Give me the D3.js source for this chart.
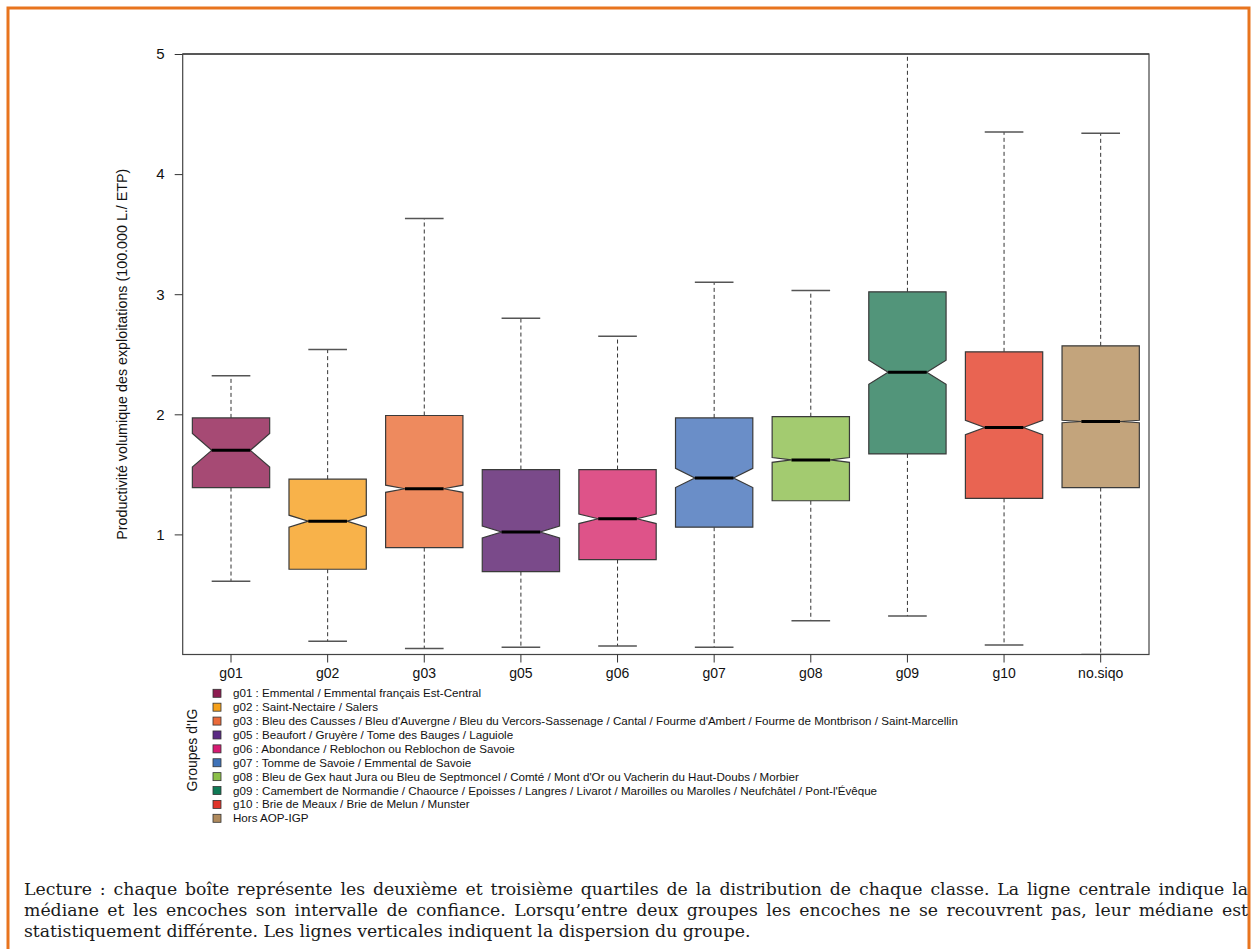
<!DOCTYPE html>
<html>
<head>
<meta charset="utf-8">
<script src="https://cdn.jsdelivr.net/npm/d3@7"></script>
<style>
  html, body { margin: 0; padding: 0; background: #fff; }
  #wrap { position: relative; width: 1252px; height: 949px; overflow: hidden; }
  svg { position: absolute; left: 0; top: 0; }
  #note { position: absolute; left: 24px; top: 879px; width: 1224px;
          font-family: "DejaVu Serif", serif; font-size: 17.3px; line-height: 21px; color: #1a1a1a; }
  #note .j { display: block; text-align: justify; text-align-last: justify; white-space: nowrap; }
  #note .l { display: block; text-align: left; white-space: nowrap; }
</style>
</head>
<body>
<div id="wrap"></div>
<script>
// ---- data ----
const categories   = ["g01","g02","g03","g05","g06","g07","g08","g09","g10","no.siqo"];
const whiskerLow   = [0.61, 0.11, 0.05, 0.06, 0.07, 0.06, 0.28, 0.32, 0.08, 0.00];
const q1           = [1.39, 0.71, 0.89, 0.69, 0.79, 1.06, 1.28, 1.67, 1.30, 1.39];
const medians      = [1.70, 1.11, 1.38, 1.02, 1.13, 1.47, 1.62, 2.35, 1.89, 1.94];
const q3           = [1.97, 1.46, 1.99, 1.54, 1.54, 1.97, 1.98, 3.02, 2.52, 2.57];
const whiskerHigh  = [2.32, 2.54, 3.63, 2.80, 2.65, 3.10, 3.03, 5.30, 4.35, 4.34];
const notchHalf    = [0.14, 0.05, 0.03, 0.05, 0.04, 0.08, 0.02, 0.10, 0.06, 0.01];
const boxColors    = ["#A64A74","#F8B24A","#EE8A5E","#7A4A8A","#DE5389","#6A8EC8","#A3CB70","#52957A","#E96452","#C3A47C"];
const legendColors = ["#8E1D52","#F5A01A","#EA6A3A","#5B2A84","#D61A72","#3F73B9","#8CC04A","#0F7A55","#E0352B","#B08A5C"];
const legendLabels = [
  "g01 : Emmental / Emmental français Est-Central",
  "g02 : Saint-Nectaire / Salers",
  "g03 : Bleu des Causses / Bleu d'Auvergne / Bleu du Vercors-Sassenage / Cantal / Fourme d'Ambert / Fourme de Montbrison / Saint-Marcellin",
  "g05 : Beaufort / Gruyère / Tome des Bauges / Laguiole",
  "g06 : Abondance / Reblochon ou Reblochon de Savoie",
  "g07 : Tomme de Savoie / Emmental de Savoie",
  "g08 : Bleu de Gex haut Jura ou Bleu de Septmoncel / Comté / Mont d'Or ou Vacherin du Haut-Doubs / Morbier",
  "g09 : Camembert de Normandie / Chaource / Epoisses / Langres / Livarot / Maroilles ou Marolles / Neufchâtel / Pont-l'Évêque",
  "g10 : Brie de Meaux / Brie de Melun / Munster",
  "Hors AOP-IGP"
];
const yTicks = [1, 2, 3, 4, 5];
const yTitle = "Productivité volumique des exploitations (100.000 L./ ETP)";
const legendTitle = "Groupes d'IG";
const noteLines = [
  "Lecture : chaque boîte représente les deuxième et troisième quartiles de la distribution de chaque classe. La ligne centrale indique la",
  "médiane et les encoches son intervalle de confiance. Lorsqu’entre deux groupes les encoches ne se recouvrent pas, leur médiane est",
  "statistiquement différente. Les lignes verticales indiquent la dispersion du groupe."
];

// ---- layout ----
const W = 1252, H = 949;
const plot = { left: 182.7, right: 1149, top: 54, bottom: 654.5 };
const font = "'Liberation Sans', Arial, Helvetica, sans-serif";

const wrap = d3.select("#wrap");
const svg = wrap.append("svg").attr("width", W).attr("height", H);

// orange frame
const frame = svg.append("g").attr("stroke", "#E8741E").attr("stroke-width", 3).attr("fill", "none");
frame.append("path").attr("d", `M8,${H} L8,8 L1249,8 L1249,${H}`);

const x = d3.scaleBand().domain(categories).range([plot.left, plot.right]).padding(0);
const y = d3.scaleLinear().domain([0, 5]).range([plot.bottom, plot.top]);

const data = categories.map((c, i) => ({
  c, lo: whiskerLow[i], q1: q1[i], med: medians[i], q3: q3[i], hi: whiskerHigh[i],
  nh: notchHalf[i], fill: boxColors[i]
}));

svg.append("clipPath").attr("id", "clip").append("rect")
  .attr("x", plot.left).attr("y", plot.top)
  .attr("width", plot.right - plot.left).attr("height", plot.bottom - plot.top);

const g = svg.append("g").attr("clip-path", "url(#clip)");
const bw = x.bandwidth() * 0.8;

data.forEach(d => {
  const cx = x(d.c) + x.bandwidth() / 2;
  const half = bw / 2, nhw = bw / 4;
  g.append("line").attr("x1", cx).attr("x2", cx).attr("y1", y(d.q3)).attr("y2", y(d.hi))
    .attr("stroke", "#333").attr("stroke-width", 1).attr("stroke-dasharray", "4,3");
  g.append("line").attr("x1", cx).attr("x2", cx).attr("y1", y(d.q1)).attr("y2", y(d.lo))
    .attr("stroke", "#333").attr("stroke-width", 1).attr("stroke-dasharray", "4,3");
  [d.lo, d.hi].forEach(v => {
    g.append("line").attr("x1", cx - nhw).attr("x2", cx + nhw).attr("y1", y(v)).attr("y2", y(v))
      .attr("stroke", "#555").attr("stroke-width", 1.5);
  });
  const pts = [
    [cx - half, y(d.q3)], [cx + half, y(d.q3)],
    [cx + half, y(d.med + d.nh)], [cx + nhw, y(d.med)], [cx + half, y(d.med - d.nh)],
    [cx + half, y(d.q1)], [cx - half, y(d.q1)],
    [cx - half, y(d.med - d.nh)], [cx - nhw, y(d.med)], [cx - half, y(d.med + d.nh)]
  ];
  g.append("path").attr("d", "M" + pts.map(p => p.join(",")).join("L") + "Z")
    .attr("fill", d.fill).attr("stroke", "#3a3a3a").attr("stroke-width", 1.2);
  g.append("line").attr("x1", cx - nhw).attr("x2", cx + nhw).attr("y1", y(d.med)).attr("y2", y(d.med))
    .attr("stroke", "#000").attr("stroke-width", 3);
});

// plot frame
svg.append("line").attr("x1", plot.left).attr("x2", plot.right).attr("y1", plot.top).attr("y2", plot.top)
  .attr("stroke", "#777").attr("stroke-width", 2);
svg.append("rect").attr("x", plot.left).attr("y", plot.top)
  .attr("width", plot.right - plot.left).attr("height", plot.bottom - plot.top)
  .attr("fill", "none").attr("stroke", "#444").attr("stroke-width", 1.2);

// y axis
const yAxis = svg.append("g").attr("transform", `translate(${plot.left},0)`)
  .call(d3.axisLeft(y).tickValues(yTicks).tickFormat(d3.format("d")).tickSize(8).tickPadding(10));
yAxis.select(".domain").remove();
yAxis.selectAll(".tick line").attr("stroke", "#333");
yAxis.selectAll("text").attr("font-family", font).attr("font-size", 15).attr("fill", "#111");

// x axis
const xAxis = svg.append("g").attr("transform", `translate(0,${plot.bottom})`)
  .call(d3.axisBottom(x).tickSize(8).tickPadding(6));
xAxis.select(".domain").remove();
xAxis.selectAll(".tick line").attr("stroke", "#333");
xAxis.selectAll("text").attr("font-family", font).attr("font-size", 14).attr("fill", "#111");

// y title
svg.append("text").attr("transform", `translate(127,${(plot.top + plot.bottom) / 2}) rotate(-90)`)
  .attr("text-anchor", "middle").attr("font-family", font).attr("font-size", 14.3).attr("fill", "#111")
  .text(yTitle);

// legend
const leg = svg.append("g");
const ly = d3.scalePoint().domain(d3.range(legendLabels.length)).range([693.3, 818.3]);
legendLabels.forEach((t, i) => {
  leg.append("rect").attr("x", 213).attr("y", ly(i) - 4).attr("width", 8).attr("height", 8)
    .attr("fill", legendColors[i]).attr("stroke", "#333").attr("stroke-width", 0.8);
  leg.append("text").attr("x", 233).attr("y", ly(i)).attr("dy", "0.35em")
    .attr("font-family", font).attr("font-size", 11.6).attr("fill", "#111").text(t);
});
svg.append("text").attr("transform", `translate(197,750) rotate(-90)`)
  .attr("text-anchor", "middle").attr("font-family", font).attr("font-size", 14).attr("fill", "#111")
  .text(legendTitle);

// note
const note = wrap.append("div").attr("id", "note");
noteLines.forEach((t, i) => {
  note.append("span").attr("class", i < 2 ? "j" : "l").text(t);
});
</script>
</body>
</html>
